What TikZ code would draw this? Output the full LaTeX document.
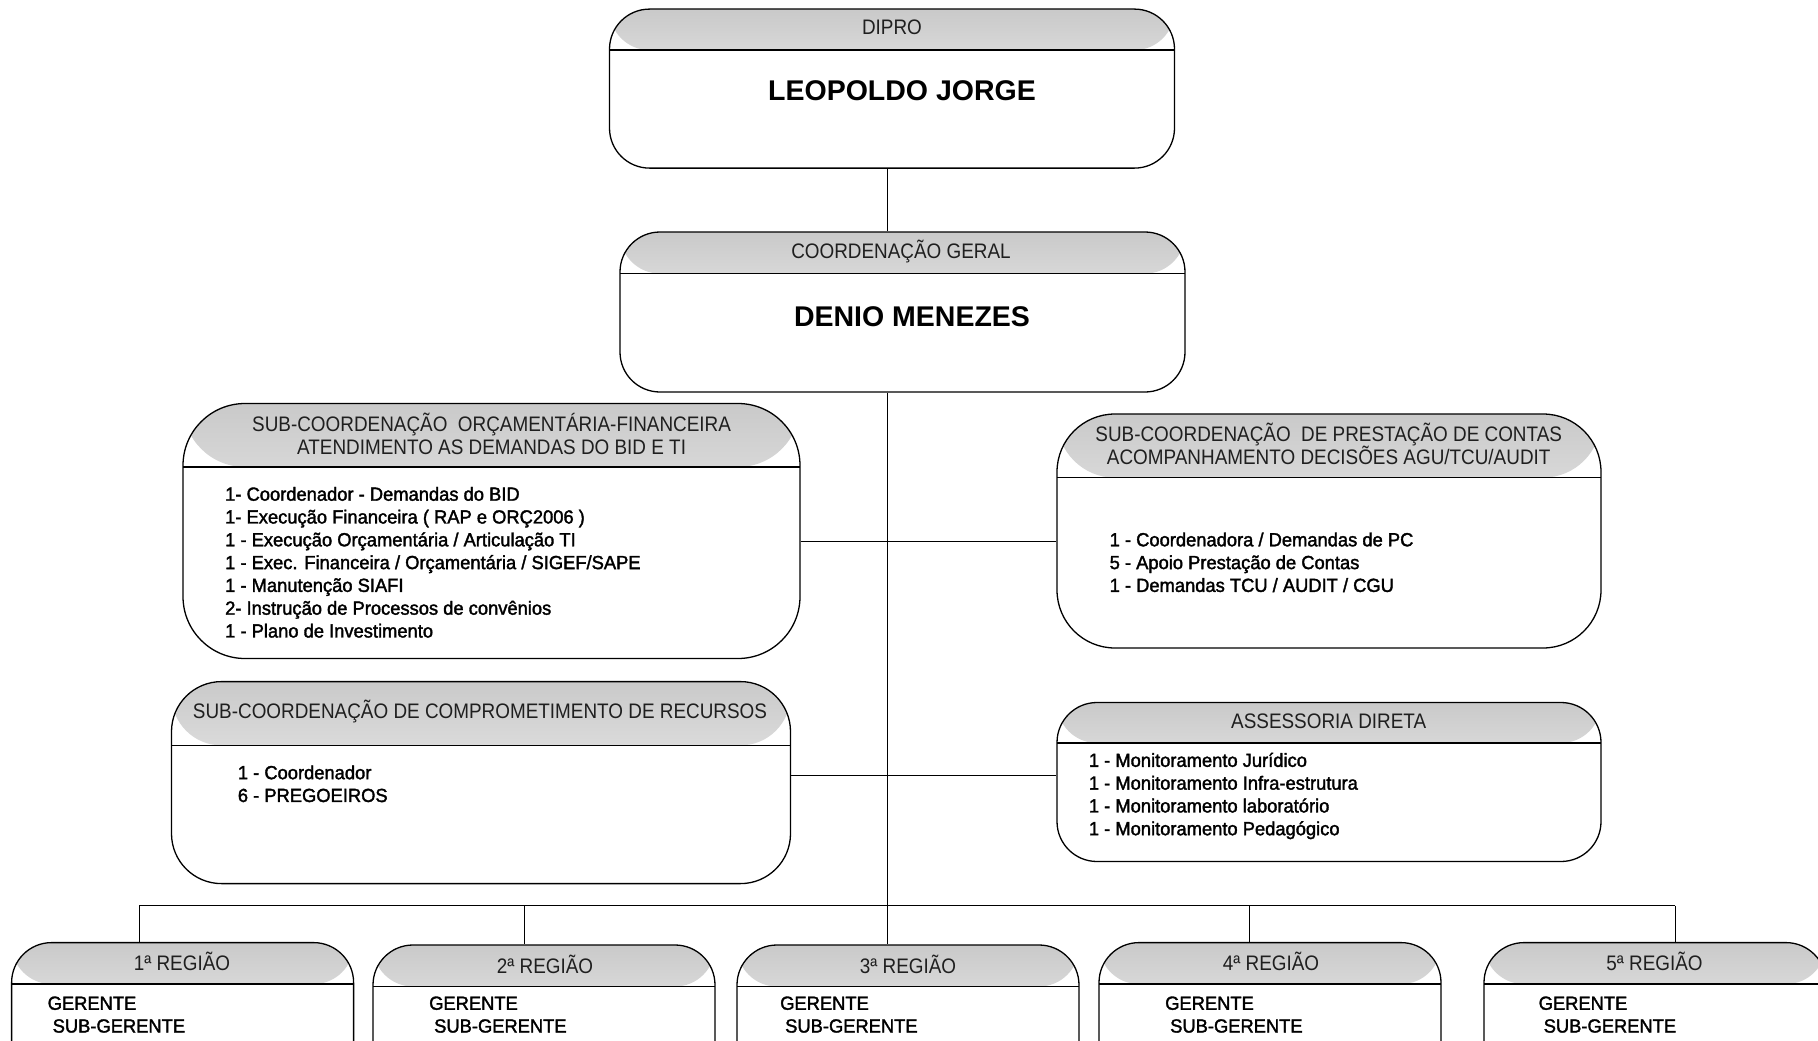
\documentclass[tikz,border=0pt]{standalone}
\usepackage{fontspec}
\setmainfont{Liberation Sans}
\newfontfamily\headfont[FakeStretch=0.9]{Liberation Sans}
\newfontfamily\bodyfont[FakeStretch=0.965,FakeBold=1.8]{Liberation Sans}
\definecolor{hdtop}{gray}{0.79}
\definecolor{hdbot}{gray}{1}
\tikzset{
  orgbox/.style n args={4}{draw, line width=1.3pt, rounded corners=#3pt, inner sep=0pt,
    minimum width=#1pt, minimum height=#2pt,
    path picture={\shade[top color=hdtop,bottom color=hdbot]
      (path picture bounding box.north west) rectangle ([yshift=-#4pt]path picture bounding box.north east);
      \draw[line width=1.3pt] ([yshift=-#4pt]path picture bounding box.north west)
        -- ([yshift=-#4pt]path picture bounding box.north east);}},
  headtxt/.style={font=\headfont\fontsize{21}{23}\selectfont, align=center, text=black!88, inner sep=0pt},
  titletxt/.style={font=\fontsize{28.5}{32}\selectfont\bfseries, inner sep=0pt},
  bodytxt/.style={font=\bodyfont\fontsize{19}{22.8}\selectfont, align=left, anchor=west, inner sep=0pt},
  link/.style={line width=1pt}
}
\begin{document}
\begin{tikzpicture}[x=1pt,y=1pt]
	\useasboundingbox (0,0) rectangle (1818,-1041);
	\clip (0,0) rectangle (1818,-1041);
	% boxes
	\node[orgbox={565}{159}{40}{41}] (dipro) at (892,-88.6) {};
	\node[orgbox={565}{160}{40}{41.6}] (coordger) at (902.5,-312) {};
	\node[orgbox={617}{255}{62}{63.5}] (suborc) at (491.5,-531) {};
	\node[orgbox={544}{234}{58}{63.7}] (subpc) at (1329,-531) {};
	\node[orgbox={619}{202}{50}{63.8}] (subrec) at (481,-782.6) {};
	\node[orgbox={544}{159}{40}{40.5}] (assess) at (1329,-782) {};
	\foreach \i/\cx/\cy in {1/182.6/1022.6,2/544/1025,3/908/1025,4/1270/1022.6,5/1655/1022.6}
		\node[orgbox={342}{160}{40}{41.5}] (reg\i) at (\cx,-\cy) {};
	% texts
	\node[headtxt] (dipro-h) at (892,-27) {DIPRO};
	\node[titletxt] (dipro-t) at (902,-90.4) {LEOPOLDO JORGE};
	\node[headtxt] (coordger-h) at (901,-251.6) {COORDENAÇÃO GERAL};
	\node[titletxt] (coordger-t) at (912,-316.5) {DENIO MENEZES};
	\node[headtxt] (suborc-h) at (491.6,-433.6) {SUB-COORDENAÇÃO\ \ ORÇAMENTÁRIA-FINANCEIRA\\ATENDIMENTO AS DEMANDAS DO BID E TI};
	\node[bodytxt] (suborc-b) at (225,-562.3) {1- Coordenador - Demandas do BID\\
		1- Execução Financeira ( RAP e ORÇ2006 )\\
		1 - Execução Orçamentária / Articulação TI\\
		1 - Exec. Financeira / Orçamentária / SIGEF/SAPE\\
		1 - Manutenção SIAFI\\
		2- Instrução de Processos de convênios\\
		1 - Plano de Investimento};
	\node[headtxt] (subpc-h) at (1328.7,-444) {SUB-COORDENAÇÃO\ \ DE PRESTAÇÃO DE CONTAS\\ACOMPANHAMENTO DECISÕES AGU/TCU/AUDIT};
	\node[bodytxt] (subpc-b) at (1109.5,-562.3) {1 - Coordenadora / Demandas de PC\\
		5 - Apoio Prestação de Contas\\
		1 - Demandas TCU / AUDIT / CGU};
	\node[headtxt] (subrec-h) at (480,-711.9) {SUB-COORDENAÇÃO DE COMPROMETIMENTO DE RECURSOS};
	\node[bodytxt] (subrec-b) at (237.7,-783.8) {1 - Coordenador\\6 - PREGOEIROS};
	\node[headtxt] (assess-h) at (1328.7,-721.1) {ASSESSORIA DIRETA};
	\node[bodytxt] (assess-b) at (1088.7,-796) {1 - Monitoramento Jurídico\\
		1 - Monitoramento Infra-estrutura\\
		1 - Monitoramento laboratório\\
		1 - Monitoramento Pedagógico};
	\foreach \i/\hx/\hy/\bx in {1/182/961/47.5,2/545/964.6/429,3/908/964.6/780,4/1271/961/1165,5/1654.5/961/1538.5}{
		\node[headtxt] (reg\i-h) at (\hx,-\hy) {\i ª REGIÃO};
		\node[bodytxt] (reg\i-b) at (\bx,-1014.6) {GERENTE\\\hspace{5pt}SUB-GERENTE};
	}
	% connectors
	\coordinate (spine) at (887,0);
	\coordinate (tie1) at (887,-541);
	\coordinate (tie2) at (887,-775.6);
	\foreach \i/\dx in {1/139,2/524,3/887,4/1249,5/1675}
		\coordinate (drop\i) at (\dx,-905.5);
	\draw[link] (dipro.south -| spine) -- (coordger.north -| spine);
	\draw[link] (coordger.south -| spine) -- (reg3.north -| spine);
	\draw[link] (suborc.east |- tie1) -- (subpc.west |- tie1);
	\draw[link] (subrec.east |- tie2) -- (assess.west |- tie2);
	\draw[link] (drop1) -- (drop5);
	\foreach \i in {1,2,4,5}
		\draw[link] (drop\i) -- (reg\i.north -| drop\i);
\end{tikzpicture}
\end{document}
